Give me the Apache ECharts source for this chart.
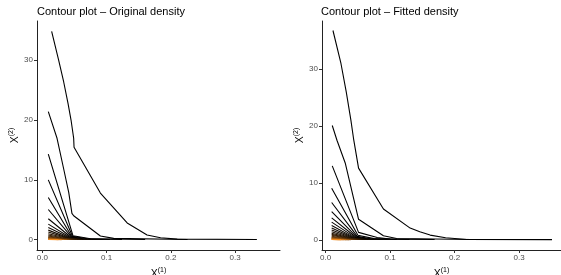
<!DOCTYPE html>
<html>
<head>
<meta charset="utf-8">
<script src="https://cdn.jsdelivr.net/npm/echarts@6/dist/echarts.min.js"></script>
<style>
  html, body { margin: 0; padding: 0; background: #fff; }
  #chart { width: 561px; height: 275px; }
</style>
</head>
<body>
<div id="chart"></div>
<script>
// contour lines, outermost (lowest level) first
const origLines = [
  [[0.0144, 34.8], [0.0253, 30.0], [0.0331, 26.4], [0.0399, 22.8], [0.0446, 20.0], [0.0487, 16.95], [0.0493, 15.45], [0.0903, 7.8], [0.132, 2.8], [0.163, 0.78], [0.184, 0.33], [0.21, 0.1], [0.334, 0.03]],
  [[0.0092, 21.4], [0.0228, 16.95], [0.033, 11.9], [0.041, 7.9], [0.046, 4.4], [0.0487, 4.0], [0.0903, 0.62], [0.111, 0.22], [0.226, 0.04]],
  [[0.0092, 14.3], [0.0477, 0.65], [0.075, 0.17], [0.16, 0.04]],
  [[0.0092, 10.0], [0.047, 0.55], [0.07, 0.15], [0.124, 0.04]],
  [[0.0092, 7.05], [0.046, 0.48], [0.065, 0.13], [0.105, 0.04]],
  [[0.0092, 5.05], [0.0455, 0.42], [0.062, 0.12], [0.095, 0.04]],
  [[0.0092, 3.5], [0.045, 0.37], [0.06, 0.11], [0.085, 0.04]],
  [[0.0092, 2.6], [0.044, 0.32], [0.058, 0.1], [0.078, 0.04]],
  [[0.0092, 2.05], [0.043, 0.28], [0.056, 0.09], [0.072, 0.04]],
  [[0.0092, 1.6], [0.042, 0.25], [0.054, 0.08], [0.067, 0.04]],
  [[0.0092, 1.3], [0.041, 0.22], [0.062, 0.04]],
  [[0.0092, 1.0], [0.04, 0.19], [0.058, 0.04]],
  [[0.0092, 0.8], [0.038, 0.16], [0.054, 0.04]],
  [[0.0092, 0.62], [0.036, 0.14], [0.05, 0.04]],
  [[0.0092, 0.48], [0.034, 0.12], [0.047, 0.04]],
  [[0.0092, 0.36], [0.032, 0.1], [0.044, 0.04]],
  [[0.0092, 0.26], [0.03, 0.08], [0.041, 0.035]],
  [[0.0092, 0.18], [0.027, 0.06], [0.038, 0.03]],
  [[0.0092, 0.12], [0.024, 0.045], [0.034, 0.025]],
  [[0.0092, 0.07], [0.02, 0.035], [0.03, 0.02]],
  [[0.0092, 0.035], [0.025, 0.015]]
];

const fitLines = [
  [[0.0113, 36.8], [0.0237, 31.0], [0.0319, 26.0], [0.0391, 21.05], [0.0432, 17.8], [0.051, 12.6], [0.0896, 5.4], [0.131, 2.05], [0.146, 1.4], [0.162, 0.82], [0.186, 0.35], [0.219, 0.05], [0.351, 0.03]],
  [[0.0102, 20.1], [0.0175, 17.5], [0.0303, 13.5], [0.051, 3.6], [0.0896, 0.7], [0.11, 0.23], [0.226, 0.04]],
  [[0.0102, 13.0], [0.051, 1.3], [0.08, 0.4], [0.1, 0.12], [0.169, 0.04]],
  [[0.0093, 9.05], [0.05, 0.8], [0.075, 0.2], [0.13, 0.04]],
  [[0.0093, 6.55], [0.049, 0.6], [0.07, 0.16], [0.11, 0.04]],
  [[0.0093, 4.95], [0.048, 0.5], [0.066, 0.14], [0.098, 0.04]],
  [[0.0093, 3.85], [0.047, 0.44], [0.063, 0.12], [0.088, 0.04]],
  [[0.0093, 3.1], [0.046, 0.38], [0.06, 0.11], [0.08, 0.04]],
  [[0.0093, 2.5], [0.045, 0.33], [0.058, 0.1], [0.074, 0.04]],
  [[0.0093, 2.05], [0.044, 0.29], [0.056, 0.09], [0.069, 0.04]],
  [[0.0093, 1.7], [0.043, 0.26], [0.064, 0.04]],
  [[0.0093, 1.4], [0.042, 0.23], [0.06, 0.04]],
  [[0.0093, 1.15], [0.041, 0.2], [0.057, 0.04]],
  [[0.0093, 0.95], [0.039, 0.17], [0.054, 0.04]],
  [[0.0093, 0.78], [0.037, 0.15], [0.051, 0.04]],
  [[0.0093, 0.62], [0.035, 0.13], [0.048, 0.04]],
  [[0.0093, 0.5], [0.033, 0.11], [0.045, 0.04]],
  [[0.0093, 0.38], [0.031, 0.09], [0.042, 0.035]],
  [[0.0093, 0.28], [0.029, 0.07], [0.039, 0.03]],
  [[0.0093, 0.2], [0.026, 0.055], [0.036, 0.025]],
  [[0.0093, 0.13], [0.023, 0.04], [0.032, 0.02]],
  [[0.0093, 0.07], [0.02, 0.03], [0.028, 0.015]],
  [[0.0093, 0.035], [0.024, 0.012]]
];

const xTicks = [0, 0.1, 0.2, 0.3];
const yTicks = [0, 10, 20, 30];
const titles = ["Contour plot \u2013 Original density", "Contour plot \u2013 Fitted density"];

const font = "'Liberation Sans', Arial, Helvetica, sans-serif";

// black for low levels, orange for the innermost ones
function levelColor(i, n) {
  const t = Math.pow(i / (n - 1), 3);
  const r = Math.round(245 * t), g = Math.round(140 * t), b = Math.round(30 * t);
  return `rgb(${r},${g},${b})`;
}

function makeSeries(lines, idx) {
  return lines.map((pts, i) => ({
    type: "line",
    xAxisIndex: idx,
    yAxisIndex: idx,
    data: pts,
    showSymbol: false,
    silent: true,
    lineStyle: { color: levelColor(i, lines.length), width: 1.1, cap: "butt", join: "round" },
  }));
}

const nameRich = {
  x: { fontSize: 10.5, lineHeight: 13, color: "#000", fontFamily: font, verticalAlign: "bottom" },
  s: { fontSize: 7, lineHeight: 8, color: "#000", fontFamily: font, verticalAlign: "top" },
};

function axisCommon() {
  return {
    type: "value",
    splitLine: { show: false },
    axisLine: { show: true, onZero: false, lineStyle: { color: "#222", width: 1 } },
    axisTick: { show: true, length: 3, lineStyle: { color: "#333" } },
    axisLabel: { color: "#4d4d4d", fontSize: 8, fontFamily: font, margin: 4 },
    nameLocation: "middle",
    nameGap: 12.5,
    nameTextStyle: { fontFamily: font, rich: nameRich },
  };
}

function xAxis(idx, min, max) {
  const a = axisCommon();
  a.gridIndex = idx;
  a.min = min;
  a.max = max;
  a.axisTick.customValues = xTicks;
  a.axisLabel.customValues = xTicks;
  a.axisLabel.formatter = (v) => v.toFixed(1);
  a.name = "{x|X}{s|(1)}";
  return a;
}

function yAxis(idx, min, max) {
  const a = axisCommon();
  a.gridIndex = idx;
  a.min = min;
  a.max = max;
  a.axisTick.customValues = yTicks;
  a.axisLabel.customValues = yTicks;
  a.name = "{x|X}{s|(2)}";
  a.nameRotate = 90;
  return a;
}

const chart = echarts.init(document.getElementById("chart"), null, { renderer: "canvas" });
chart.setOption({
  animation: false,
  backgroundColor: "#fff",
  title: titles.map((t, i) => ({
    text: t,
    left: i === 0 ? 37 : 321,
    top: 5,
    padding: 0,
    textStyle: { fontSize: 11, fontWeight: "normal", color: "#000", fontFamily: font, lineHeight: 13 },
  })),
  grid: [
    { left: 37, top: 21, width: 243, height: 229, containLabel: false, outerBoundsMode: "none" },
    { left: 322, top: 21, width: 239, height: 229, containLabel: false, outerBoundsMode: "none" },
  ],
  xAxis: [xAxis(0, -0.0084, 0.37), xAxis(1, -0.0057, 0.365)],
  yAxis: [yAxis(0, -1.72, 36.55), yAxis(1, -1.8, 38.47)],
  series: [...makeSeries(origLines, 0), ...makeSeries(fitLines, 1)],
});
</script>
</body>
</html>
